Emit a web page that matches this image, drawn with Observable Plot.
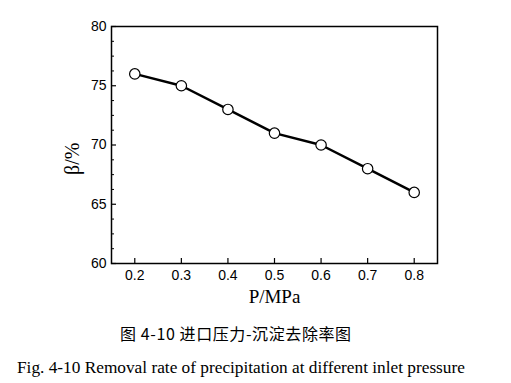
<!DOCTYPE html>
<html>
<head>
<meta charset="utf-8">
<script src="https://cdn.jsdelivr.net/npm/d3@7"></script>
<script src="https://cdn.jsdelivr.net/npm/@observablehq/plot@0.6"></script>
<style>
  html, body { margin: 0; padding: 0; background: #fff; }
  #wrap { position: relative; width: 511px; height: 383px; overflow: hidden; }
  .cap { position: absolute; color: #000; white-space: nowrap; }
</style>
</head>
<body>
<div id="wrap"></div>
<script>
const pressure = [0.2, 0.3, 0.4, 0.5, 0.6, 0.7, 0.8];
const removal = [76, 75, 73, 71, 70, 68, 66];
const xTicks = [0.2, 0.3, 0.4, 0.5, 0.6, 0.7, 0.8];
const yTicks = [60, 65, 70, 75, 80];
const yMinorTicks = [61.25, 62.5, 63.75, 66.25, 67.5, 68.75, 71.25, 72.5, 73.75, 76.25, 77.5, 78.75];
const xLabel = "P/MPa";
const yLabel = "β/%";
const captionCN = "图 4-10  进口压力-沉淀去除率图";
const captionEN = "Fig. 4-10 Removal rate of precipitation at different inlet pressure";

const data = pressure.map((p, i) => ({p, r: removal[i]}));

const chart = Plot.plot({
  width: 511,
  height: 312,
  marginLeft: 111,
  marginRight: 74,
  marginTop: 26,
  marginBottom: 49,
  style: {fontFamily: "'Liberation Sans', Arial, sans-serif", fontSize: "14px", color: "#000", background: "#fff"},
  x: {domain: [0.15, 0.85]},
  y: {domain: [60, 80]},
  marks: [
    Plot.frame({stroke: "#000", strokeWidth: 1.5}),
    Plot.axisX({ticks: xTicks, tickSize: -5, tickFormat: d3.format(".1f"), label: null, fontSize: 14, tickPadding: 12, strokeWidth: 1.2}),
    Plot.axisY({ticks: yTicks, tickSize: -5, tickFormat: d => d, label: null, fontSize: 14, tickPadding: 10, strokeWidth: 1.2}),
    Plot.axisY({ticks: yMinorTicks, tickSize: -3, text: null, label: null, strokeWidth: 1}),
    Plot.line(data, {x: "p", y: "r", stroke: "#000", strokeWidth: 2.5}),
    Plot.dot(data, {x: "p", y: "r", r: 5.2, fill: "#fff", stroke: "#000", strokeWidth: 1.2}),
    Plot.text([xLabel], {frameAnchor: "bottom", dy: 39, text: d => d, fontFamily: "'Liberation Serif', 'Times New Roman', serif", fontSize: 19}),
    Plot.text([yLabel], {frameAnchor: "left", dx: -39, dy: 30, rotate: -90, text: d => d, fontFamily: "'Liberation Serif', 'Times New Roman', serif", fontSize: 20})
  ]
});

const wrap = document.getElementById("wrap");
wrap.appendChild(chart);

const c1 = document.createElement("div");
c1.className = "cap";
c1.textContent = captionCN;
c1.style.top = "323px";
c1.style.left = "120px";
c1.style.fontFamily = "'Noto Sans CJK SC', sans-serif";
c1.style.fontSize = "16px";
c1.style.letterSpacing = "0.6px";
c1.style.lineHeight = "20px";
wrap.appendChild(c1);

const c2 = document.createElement("div");
c2.className = "cap";
c2.textContent = captionEN;
c2.style.top = "357px";
c2.style.left = "17px";
c2.style.fontFamily = "'Liberation Serif', 'Times New Roman', serif";
c2.style.fontSize = "17.3px";
c2.style.lineHeight = "22px";
wrap.appendChild(c2);
</script>
</body>
</html>
